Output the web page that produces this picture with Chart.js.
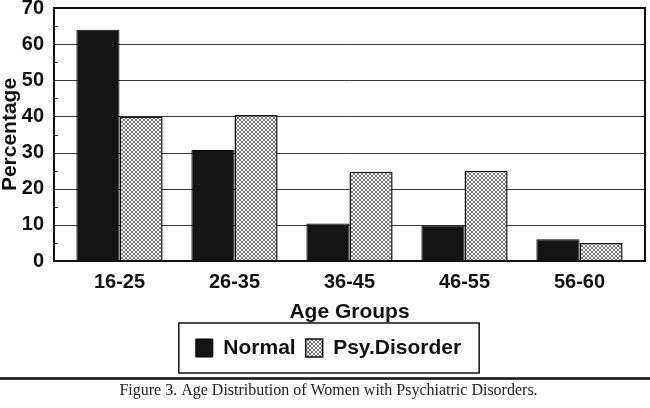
<!DOCTYPE html>
<html lang="en">
<head>
    <meta charset="UTF-8">
    <title>Age Distribution of Women with Psychiatric Disorders</title>
    <script src="https://cdn.jsdelivr.net/npm/chart.js"></script>
    <style>
        html, body { margin: 0; padding: 0; background: #fff; }
        #wrap { width: 650px; height: 408px; }
    </style>
</head>
<body>
    <div id="wrap"><canvas id="ageChart"></canvas></div>
    <script>
        // values
        const ageGroups = ['16-25', '26-35', '36-45', '46-55', '56-60'];
        const normalPct = [64, 30.7, 10.4, 9.8, 6];
        const disorderPct = [40, 40.4, 24.7, 25, 5];
        const yTicks = [0, 10, 20, 30, 40, 50, 60, 70];

        const sans = 'Liberation Sans, Arial, sans-serif';
        const EXT = 8; // frame sticks out past the outer bars

        function makeHatch() {
            const c = document.createElement('canvas');
            c.width = 4; c.height = 4;
            const g = c.getContext('2d');
            g.fillStyle = '#f3f3f3';
            g.fillRect(0, 0, 4, 4);
            g.strokeStyle = '#5c5c5c';
            g.lineWidth = 0.8;
            g.beginPath();
            g.moveTo(0, 0); g.lineTo(4, 4);
            g.moveTo(4, 0); g.lineTo(0, 4);
            g.stroke();
            return g.createPattern(c, 'repeat');
        }

        const framePlugin = {
            id: 'frame',
            beforeDatasetsDraw(chart) {
                const { ctx, chartArea: a, scales: { y } } = chart;
                ctx.save();
                ctx.strokeStyle = '#3a3a3a';
                ctx.lineWidth = 1;
                yTicks.slice(1, -1).forEach(v => {
                    const py = Math.round(y.getPixelForValue(v)) + 0.5;
                    ctx.beginPath();
                    ctx.moveTo(a.left - EXT, py);
                    ctx.lineTo(a.right + EXT, py);
                    ctx.stroke();
                });
                // small minor marks on the left edge, halfway between ticks
                yTicks.slice(1).forEach((v, i) => {
                    const py = Math.round(y.getPixelForValue((v + yTicks[i]) / 2)) + 0.5;
                    ctx.beginPath();
                    ctx.moveTo(a.left - EXT, py);
                    ctx.lineTo(a.left - EXT + 4, py);
                    ctx.stroke();
                });
                ctx.restore();
            },
            afterDatasetsDraw(chart) {
                const { ctx, chartArea: a } = chart;
                ctx.save();
                ctx.strokeStyle = '#111';
                ctx.lineWidth = 2;
                ctx.strokeRect(a.left - EXT, a.top, a.width + 2 * EXT, a.height);
                ctx.restore();
            },
            afterDraw(chart) {
                const { ctx, legend } = chart;
                const boxes = legend.legendHitBoxes;
                const left = Math.min(...boxes.map(b => b.left)) - 17;
                const right = Math.max(...boxes.map(b => b.left + b.width)) + 18;
                const mid = boxes[0].top + boxes[0].height / 2;
                ctx.save();
                ctx.strokeStyle = '#111';
                ctx.lineWidth = 1.5;
                ctx.strokeRect(left, mid - 25, right - left, 50);
                // rule above the caption
                ctx.lineWidth = 2.5;
                ctx.beginPath();
                ctx.moveTo(0, mid + 30.5);
                ctx.lineTo(chart.width, mid + 30.5);
                ctx.stroke();
                ctx.restore();
            }
        };

        const ctx = document.getElementById('ageChart').getContext('2d');
        new Chart(ctx, {
            type: 'bar',
            data: {
                labels: ageGroups,
                datasets: [{
                    label: 'Normal',
                    data: normalPct,
                    backgroundColor: '#141414',
                    borderColor: '#000',
                    borderWidth: 1
                }, {
                    label: 'Psy.Disorder',
                    data: disorderPct,
                    backgroundColor: makeHatch(),
                    borderColor: '#111',
                    borderWidth: 1.5
                }]
            },
            options: {
                responsive: true,
                maintainAspectRatio: false,
                animation: false,
                layout: { padding: { left: 20, right: 13, top: 8, bottom: 0 } },
                datasets: { bar: { categoryPercentage: 0.75, barPercentage: 1 } },
                scales: {
                    x: {
                        offset: true,
                        grid: { display: false },
                        border: { display: false },
                        ticks: { color: '#111', padding: 1, font: { family: sans, size: 20, weight: 'bold' } },
                        title: {
                            display: true,
                            text: 'Age Groups',
                            color: '#111',
                            padding: { top: 0, bottom: 3 },
                            font: { family: sans, size: 21, weight: 'bold' }
                        },
                        afterFit(s) { s.height = 66.5; }
                    },
                    y: {
                        min: 0,
                        max: 70,
                        grid: { display: false, drawTicks: false },
                        border: { display: false },
                        afterBuildTicks(s) { s.ticks = yTicks.map(v => ({ value: v })); },
                        ticks: { color: '#111', padding: 18, font: { family: sans, size: 20, weight: 'bold' } },
                        title: {
                            display: true,
                            text: 'Percentage',
                            color: '#111',
                            padding: { top: -22.6, bottom: 0 },
                            font: { family: sans, size: 21, weight: 'bold' }
                        },
                        afterFit(s) { s.width = 42; s.paddingTop = 0; s.paddingBottom = 0; }
                    }
                },
                plugins: {
                    legend: {
                        position: 'bottom',
                        labels: {
                            boxWidth: 17,
                            boxHeight: 18,
                            padding: 10,
                            color: '#111',
                            font: { family: sans, size: 21, weight: 'bold' }
                        }
                    },
                    title: {
                        display: true,
                        position: 'bottom',
                        text: 'Figure 3. Age Distribution of Women with Psychiatric Disorders.',
                        color: '#222',
                        padding: { top: 12.4, bottom: 7.9 },
                        font: { family: 'Liberation Serif, Times New Roman, serif', size: 16, weight: 'normal' }
                    },
                    tooltip: { enabled: false }
                }
            },
            plugins: [framePlugin]
        });
    </script>
</body>
</html>
